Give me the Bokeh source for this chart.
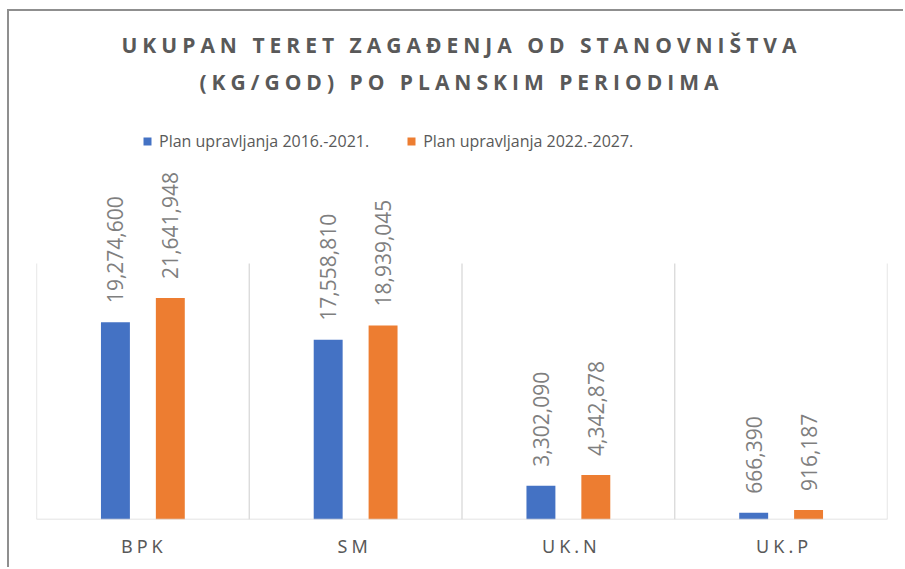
import math
from bokeh.plotting import figure
from bokeh.layouts import column
from bokeh.models import (ColumnDataSource, FactorRange, Range1d, Legend, LegendItem,
                          Title, Span)
from bokeh.transform import dodge
from bokeh.core.properties import value
from bokeh.embed import file_html
from bokeh.resources import INLINE

# ---- data ----
categories = ["BPK", "SM", "UK.N", "UK.P"]
series_names = ["Plan upravljanja 2016.-2021.", "Plan upravljanja 2022.-2027."]
plan_2016_2021 = [19274600, 17558810, 3302090, 666390]
plan_2022_2027 = [21641948, 18939045, 4342878, 916187]
title_lines = ["UKUPAN TERET ZAGAĐENJA OD STANOVNIŠTVA", "(KG/GOD) PO PLANSKIM PERIODIMA"]
y_max = 25_000_000          # top of the category separators

# ---- styles / geometry ----
W = 896
colors = ["#4472C4", "#ED7D31"]
text_dark = "#595959"
label_gray = "#7F7F7F"
grid_gray = "#D9D9D9"
frame_gray = "#8F8F8F"
offset = 0.129
bar_w = 0.136
grid_px = 256                # pixel height of the separators
main_h = 418                 # pixel height of the main plotting frame
y_end = y_max * main_h / grid_px
B_LEFT, B_RIGHT = 27, 18

src = ColumnDataSource(dict(
    cat=categories,
    a=plan_2016_2021,
    b=plan_2022_2027,
    la=[f"{v:,}" for v in plan_2016_2021],
    lb=[f"{v:,}" for v in plan_2022_2027],
))

x_range = FactorRange(factors=categories, range_padding=0)

# ---------- title figure ----------
tf = figure(width=W, height=90, title=None, output_backend="svg",
            toolbar_location=None, min_border_left=B_LEFT, min_border_right=B_RIGHT,
            min_border_top=89, min_border_bottom=0,
            x_range=Range1d(0, 1), y_range=Range1d(0, 1))
tf.outline_line_color = None
tf.axis.visible = False
tf.grid.visible = False
tf.styles = {"letter-spacing": "5px"}
t2 = Title(text=title_lines[1], align="left", offset=163, text_font="Open Sans",
           text_font_size="21px", text_font_style="bold", text_color=text_dark)
t1 = Title(text=title_lines[0], align="left", offset=85, text_font="Open Sans",
           text_font_size="21px", text_font_style="bold", text_color=text_dark,
           standoff=3)
tf.add_layout(t2, "above")
tf.add_layout(t1, "above")

# ---------- main figure ----------
p = figure(x_range=x_range, y_range=Range1d(0, y_end),
           width=W, height=main_h + 2, title=None,
           output_backend="svg", toolbar_location=None,
           min_border_left=B_LEFT, min_border_right=B_RIGHT,
           min_border_top=0, min_border_bottom=2)
p.outline_line_color = None
p.axis.visible = False
p.grid.visible = False

bounds = list(range(len(categories) + 1))
p.segment(x0=bounds, x1=bounds, y0=[0] * len(bounds), y1=[y_max] * len(bounds),
          line_color=grid_gray, line_width=1.3)
p.add_layout(Span(location=0, dimension="width", line_color=grid_gray, line_width=1.6))

r1 = p.vbar(x=dodge("cat", -offset, range=x_range), top="a", width=bar_w,
            source=src, fill_color=colors[0], line_color=None)
r2 = p.vbar(x=dodge("cat", offset, range=x_range), top="b", width=bar_w,
            source=src, fill_color=colors[1], line_color=None)

for xs, ys, ts in ((-offset, "a", "la"), (offset, "b", "lb")):
    p.text(x=dodge("cat", xs, range=x_range), y=ys, text=ts, source=src,
           angle=math.pi / 2, text_align="left", text_baseline="middle",
           y_offset=-19, text_font=value("Open Sans"), text_font_size="21px",
           text_color=label_gray)

legend = Legend(items=[LegendItem(label=series_names[0], renderers=[r1]),
                       LegendItem(label=series_names[1], renderers=[r2])],
                location=(106, 367), orientation="horizontal",
                glyph_width=10, glyph_height=10, label_standoff=7, spacing=37,
                padding=0, margin=0, border_line_color=None,
                background_fill_alpha=0,
                label_text_font="Open Sans", label_text_font_size="16px",
                label_text_color=text_dark)
p.add_layout(legend)

# ---------- category axis figure ----------
af = figure(x_range=x_range, y_range=Range1d(0, 1), width=W, height=48,
            title=None, output_backend="svg", toolbar_location=None,
            min_border_left=B_LEFT, min_border_right=B_RIGHT,
            min_border_top=0, min_border_bottom=47)
af.outline_line_color = None
af.border_fill_color = None
af.background_fill_color = None
af.yaxis.visible = False
af.grid.visible = False
af.styles = {"letter-spacing": "4px", "position": "relative", "left": "-5px"}
ax = af.xaxis[0]
ax.axis_line_color = None
ax.major_tick_line_color = None
ax.minor_tick_line_color = None
ax.major_label_text_font = "Noto Sans"
ax.major_label_text_font_size = "18px"
ax.major_label_text_color = text_dark
ax.major_label_standoff = 5

layout = column(tf, p, af, spacing=0, margin=(11, 0, 0, 9),
                styles={"box-shadow": f"-2px -2px 0 0 {frame_gray}"})
open("out.html", "w").write(file_html(layout, INLINE))
